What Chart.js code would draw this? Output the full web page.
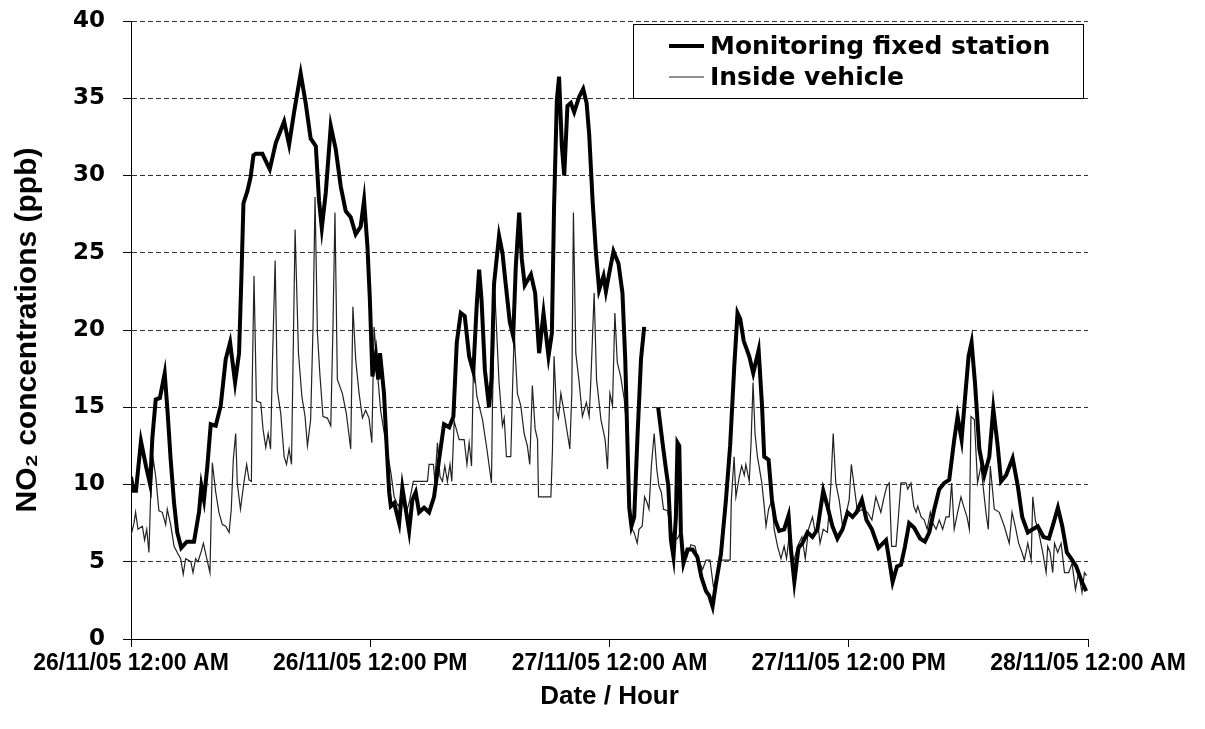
<!DOCTYPE html>
<html>
<head>
<meta charset="utf-8">
<script src="https://cdn.jsdelivr.net/npm/chart.js@4/dist/chart.umd.min.js"></script>
<style>
  body { margin: 0; background: #fff; }
  #wrap { width: 1205px; height: 729px; position: relative; }
</style>
</head>
<body>
<div id="wrap"><canvas id="no2Chart"></canvas></div>
<script>
// hours since 26/11/05 00:00 and NO2 (ppb)
const tickLabels = ["26/11/05 12:00 AM", "26/11/05 12:00 PM", "27/11/05 12:00 AM", "27/11/05 12:00 PM", "28/11/05 12:00 AM"];

const stationHours = [0, 0.12, 0.25, 0.5, 0.75, 0.96, 1.07, 1.24, 1.45, 1.69, 1.83, 1.99, 2.16, 2.32, 2.52, 2.8, 3.16, 3.41, 3.53, 3.66, 3.83,
  4.0, 4.25, 4.5, 4.75, 4.97, 5.22, 5.42, 5.54, 5.64, 5.84, 6.0, 6.14, 6.26, 6.59, 6.96, 7.26, 7.68, 7.93, 8.18, 8.51, 8.76,
  9.01, 9.27, 9.43, 9.57, 9.77, 10.02, 10.27, 10.52, 10.77, 11.02, 11.27, 11.52, 11.69, 11.86, 11.98, 12.11, 12.28, 12.4, 12.49,
  12.69, 12.83, 12.95, 13.03, 13.2, 13.45, 13.61, 13.78, 13.95, 14.11, 14.28, 14.45, 14.7, 14.95, 15.2, 15.45, 15.7, 15.96,
  16.17, 16.34, 16.54, 16.74, 16.96, 17.17, 17.34, 17.46, 17.58, 17.75, 17.96, 18.08, 18.21, 18.46, 18.63, 18.8, 19.0, 19.17,
  19.3, 19.47, 19.6, 19.75, 20.06, 20.27, 20.47, 20.69, 20.94, 21.11, 21.22, 21.36, 21.47, 21.61, 21.73, 21.89, 22.06, 22.23,
  22.48, 22.68, 22.85, 22.98, 23.15, 23.32, 23.48, 23.7, 23.82, 23.99, 24.2, 24.45, 24.65, 24.79, 24.9, 24.99, 25.1, 25.24,
  25.41, 25.58, 25.74, 25.9, 26.44, 26.66, 26.83, 26.95, 27.08, 27.21, 27.33, 27.41, 27.5, 27.58, 27.71, 27.91, 28.16, 28.41,
  28.61, 28.84, 29.0, 29.17, 29.34, 29.59, 29.84, 30.05, 30.26, 30.42, 30.56, 30.73, 31.01, 31.21, 31.48, 31.65, 31.76, 31.98,
  32.15, 32.31, 32.51, 32.76, 32.98, 33.1, 33.27, 33.48, 33.68, 33.93, 34.18, 34.43, 34.72, 34.93, 35.18, 35.43, 35.69, 35.94,
  36.19, 36.39, 36.66, 36.89, 37.16, 37.49, 37.87, 38.03, 38.2, 38.42, 38.62, 38.82, 39.03, 39.28, 39.58, 39.82, 40.04, 40.29,
  40.54, 40.79, 41.04, 41.29, 41.46, 41.66, 41.8, 42.01, 42.16, 42.33, 42.55, 42.8, 43.05, 43.25, 43.47, 43.64, 43.89, 44.22,
  44.48, 44.7, 44.98, 45.23, 45.48, 45.77, 46.04, 46.27, 46.49, 46.71, 46.94, 47.16, 47.41, 47.66, 47.91];
const stationValues = [10.5, 9.6, 9.6, 12.8, 11.2, 10.0, 13.0, 15.5, 15.6, 17.2, 14.8, 11.6, 8.8, 6.9, 5.9, 6.3, 6.3, 8.2, 9.9, 9.0, 11.2,
  13.9, 13.8, 15.1, 18.1, 19.2, 16.6, 18.5, 23.5, 28.2, 29.0, 29.9, 31.3, 31.4, 31.4, 30.4, 32.1, 33.5, 32.0, 34.1, 36.6, 34.7,
  32.4, 31.9, 28.4, 26.6, 28.9, 33.2, 31.7, 29.3, 27.7, 27.3, 26.2, 26.7, 28.4, 25.4, 22.0, 17.0, 18.4, 16.8, 18.5,
  15.9, 12.3, 9.5, 8.6, 8.8, 7.5, 9.8, 8.4, 7.0, 9.0, 9.5, 8.2, 8.5, 8.2, 9.2, 11.6, 13.9, 13.7,
  14.4, 19.2, 21.1, 20.9, 18.3, 17.3, 21.6, 23.9, 22.0, 17.4, 15.0, 16.8, 23.0, 26.1, 25.0, 22.9, 20.5, 19.6,
  24.1, 27.6, 24.6, 22.9, 23.6, 22.4, 18.5, 21.1, 18.3, 19.8, 28.0, 34.9, 36.4, 31.9, 30.0, 34.5, 34.7, 34.1,
  35.1, 35.6, 34.7, 32.7, 28.4, 25.0, 22.6, 23.5, 22.5, 23.7, 25.1, 24.3, 22.4, 18.1, 12.7, 8.5, 7.3, 7.9,
  13.3, 18.1, 20.2, null, 15.0, 12.7, 11.0, 9.9, 6.4, 5.3, 7.9, 12.7, 12.5, 6.9, 4.9, 5.8, 5.8, 5.3,
  4.0, 3.1, 2.8, 2.1, 3.6, 5.5, 9.0, 12.5, 17.7, 21.1, 20.7, 19.3, 18.3, 17.2, 18.7, 15.1, 11.8, 11.6,
  9.0, 7.7, 7.0, 7.1, 8.0, 5.8, 3.7, 5.9, 6.2, 6.9, 6.6, 7.1, 9.6, 8.6, 7.3, 6.5, 7.1, 8.2,
  7.9, 8.2, 9.0, 7.7, 7.1, 5.9, 6.4, 5.1, 3.7, 4.7, 4.8, 6.0, 7.5, 7.2, 6.5, 6.3, 6.9, 8.4,
  9.7, 10.1, 10.3, 12.9, 14.4, 12.9, 15.1, 18.3, 19.2, 16.6, 12.3, 10.6, 11.8, 14.9, 12.5, 10.2, 10.6, 11.7,
  9.9, 7.9, 6.9, 7.1, 7.3, 6.6, 6.5, 7.5, 8.5, 7.3, 5.6, 5.2, 4.7, 3.8, 3.1];

const vehicleHours = [0, 0.15, 0.23, 0.35, 0.57, 0.68, 0.79, 0.9, 0.99, 1.12, 1.24, 1.4, 1.57, 1.74, 1.82, 1.99, 2.16, 2.32, 2.49, 2.62,
  2.74, 3.0, 3.11, 3.24, 3.36, 3.53, 3.63, 3.8, 3.96, 4.08, 4.25, 4.41, 4.58, 4.75, 4.92, 5.03, 5.13, 5.25, 5.33, 5.49, 5.66,
  5.8, 5.92, 6.04, 6.08, 6.17, 6.29, 6.51, 6.62, 6.76, 6.88, 7.0, 7.09, 7.23, 7.34, 7.51, 7.68, 7.8, 7.93, 8.05, 8.13, 8.23,
  8.4, 8.57, 8.73, 8.85, 9.01, 9.13, 9.23, 9.35, 9.47, 9.63, 9.85, 10.02, 10.13, 10.23, 10.35, 10.6, 10.8, 11.02, 11.13,
  11.27, 11.44, 11.61, 11.77, 11.94, 12.08, 12.19, 12.39, 12.52, 12.78, 13.03, 13.2, 13.4, 13.61, 13.78, 13.95, 14.16, 14.87,
  14.95, 15.17, 15.24, 15.37, 15.5, 15.62, 15.74, 15.87, 16.0, 16.09, 16.21, 16.46, 16.71, 16.85, 16.96, 17.08, 17.18, 17.35,
  17.63, 17.85, 18.08, 18.13, 18.25, 18.46, 18.63, 18.72, 18.83, 19.05, 19.13, 19.22, 19.38, 19.55, 19.72, 19.88, 20.0, 20.13,
  20.27, 20.39, 20.44, 21.06, 21.14, 21.22, 21.34, 21.44, 21.56, 21.73, 21.89, 22.01, 22.11, 22.19, 22.31, 22.48, 22.64, 22.84,
  22.98, 23.06, 23.23, 23.35, 23.57, 23.78, 23.9, 24.02, 24.15, 24.27, 24.39, 24.56, 24.74, 24.9, 25.06, 25.23, 25.39, 25.48,
  25.64, 25.76, 25.89, 25.98, 26.1, 26.24, 26.37, 26.48, 26.6, 26.71, 26.91, 27.08, 27.25, 27.41, 27.55, 27.71, 27.88, 28.08,
  28.29, 28.41, 28.67, 28.84, 29.04, 29.21, 29.38, 29.59, 30.05, 30.11, 30.25, 30.34, 30.51, 30.63, 30.76, 30.84, 31.01, 31.1,
  31.2, 31.3, 31.42, 31.64, 31.76, 31.85, 31.98, 32.15, 32.26, 32.43, 32.6, 32.76, 32.88, 33.05, 33.22, 33.43, 33.65, 33.82,
  33.98, 34.18, 34.32, 34.48, 34.56, 34.72, 34.93, 35.1, 35.22, 35.35, 35.52, 35.69, 35.89, 36.02, 36.13, 36.27, 36.44, 36.69,
  36.94, 37.16, 37.36, 37.61, 37.74, 37.91, 38.03, 38.15, 38.37, 38.49, 38.62, 38.87, 38.96, 39.12, 39.26, 39.38, 39.46, 39.63,
  39.79, 39.93, 40.09, 40.21, 40.38, 40.54, 40.71, 40.88, 41.04, 41.16, 41.29, 41.46, 41.63, 41.76, 41.93, 42.05, 42.13, 42.3,
  42.46, 42.63, 42.88, 43.0, 43.1, 43.3, 43.55, 43.8, 44.05, 44.19, 44.35, 44.52, 44.69, 44.81, 44.98, 45.15, 45.23, 45.36,
  45.53, 45.73, 45.9, 45.98, 46.1, 46.23, 46.32, 46.48, 46.65, 46.82, 47.03, 47.2, 47.37, 47.53, 47.7, 47.82, 47.93];
const vehicleValues = [6.7, 7.5, 8.2, 7.1, 7.3, 6.4, 7.1, 5.6, 9.5, 11.6, 10.5, 8.3, 8.2, 7.4, 8.4, 7.4, 6.0, 5.6, 5.2, 4.2,
  5.2, 5.0, 4.3, 5.2, 5.0, 5.7, 6.2, 5.2, 4.3, 11.4, 9.5, 8.2, 7.4, 7.3, 6.9, 8.4, 11.6, 13.3, 10.1, 8.4, 10.1,
  11.3, 10.3, 10.2, 16.6, 23.5, 15.4, 15.3, 13.6, 12.4, 13.3, 12.3, 17.7, 24.5, 16.1, 14.6, 11.8, 11.3, 12.3, 11.3, 18.1, 26.5,
  18.5, 15.7, 14.4, 12.5, 14.2, 20.2, 28.6, 19.8, 17.2, 14.4, 14.3, 13.8, 20.2, 27.6, 16.8, 15.9, 14.6, 12.3, 21.5,
  18.1, 15.9, 14.3, 14.8, 14.3, 12.7, 20.2, 16.8, 14.8, 12.7, 10.8, 9.2, 8.6, 9.2, 8.1, 8.8, 10.2, 10.2,
  11.3, 11.3, 10.2, 12.7, 10.5, 10.2, 11.2, 10.2, 11.3, 10.2, 14.1, 12.9, 12.9, 11.3, 12.7, 11.2, 17.9, 15.7,
  14.2, 12.3, 10.1, 15.1, 22.4, 16.6, 13.8, 14.3, 11.8, 11.8, 15.9, 19.8, 15.9, 15.1, 13.3, 12.5, 11.3, 16.4,
  13.6, 12.9, 9.2, 9.2, 12.3, 18.3, 14.8, 14.3, 15.9, 14.6, 13.3, 12.3, 15.9, 27.6, 18.5, 16.6, 14.4, 15.3,
  14.4, 16.6, 22.4, 16.8, 14.2, 12.9, 11.0, 15.9, 15.1, 21.1, 17.9, 17.0, 15.5, 13.1, 7.3, 6.9, 6.2, 7.1,
  7.3, 9.2, 8.8, 8.4, 11.2, 13.3, 11.0, 9.9, 9.5, 8.4, 8.3, 7.1, 6.4, 6.5, 6.9, 5.3, 5.3, 6.1,
  6.0, 5.3, 4.5, 5.1, 5.1, 3.4, 3.8, 5.1, 5.1, 9.0, 11.8, 9.2, 10.5, 11.2, 10.6, 11.3, 10.2, 12.7,
  16.6, 13.3, 11.8, 10.1, 8.6, 7.3, 8.4, 9.0, 7.1, 6.0, 5.2, 6.0, 5.2, 7.1, 4.9, 6.0, 6.6, 5.2,
  7.1, 7.9, 6.9, 7.1, 6.2, 7.1, 6.9, 9.9, 13.3, 10.1, 9.0, 7.3, 8.2, 9.0, 11.3, 9.9, 8.2, 8.4,
  8.2, 7.7, 9.2, 8.2, 9.0, 9.9, 10.1, 6.0, 6.0, 7.9, 10.1, 10.1, 9.7, 10.1, 8.6, 8.2, 8.6, 7.9,
  7.7, 7.1, 8.2, 7.5, 7.1, 7.7, 7.1, 7.9, 7.9, 10.1, 7.1, 8.2, 9.2, 8.6, 7.9, 7.1, 14.4, 14.2,
  10.1, 11.2, 8.2, 7.1, 11.2, 8.4, 8.2, 7.3, 6.2, 8.2, 7.3, 6.2, 5.6, 5.1, 6.2, 5.1, 9.2, 7.7,
  6.9, 5.6, 4.3, 6.0, 5.6, 4.3, 6.2, 5.6, 6.2, 4.3, 4.3, 4.9, 3.2, 4.3, 3.0, 4.3, 4.1];

function toPoints(hours, values) {
  return hours.map((h, i) => ({ x: h, y: values[i] }));
}

// boxed legend in the top right of the plot
const legendBox = {
  id: 'legendBox',
  afterDraw(chart) {
    const { ctx, chartArea } = chart;
    const w = 450, h = 74;
    const x = chartArea.right - w - 5;
    const y = chartArea.top + 3;
    ctx.save();
    ctx.fillStyle = '#fff';
    ctx.fillRect(x, y, w, h);
    ctx.strokeStyle = '#000';
    ctx.lineWidth = 1;
    ctx.strokeRect(x + 0.5, y + 0.5, w, h);
    chart.data.datasets.forEach((ds, i) => {
      const cy = y + 22 + i * 31;
      ctx.beginPath();
      ctx.lineWidth = ds.borderWidth;
      ctx.strokeStyle = ds.borderColor;
      ctx.moveTo(x + 36, cy);
      ctx.lineTo(x + 71, cy);
      ctx.stroke();
      ctx.fillStyle = '#000';
      ctx.font = 'bold 25px "DejaVu Sans"';
      ctx.textBaseline = 'middle';
      ctx.fillText(ds.label, x + 77, cy + 1);
    });
    ctx.restore();
  }
};

Chart.defaults.font.family = '"Liberation Sans", Arial, sans-serif';
Chart.defaults.color = '#000';

new Chart(document.getElementById('no2Chart'), {
  type: 'line',
  data: {
    datasets: [{
      label: 'Monitoring fixed station',
      data: toPoints(stationHours, stationValues),
      borderColor: '#000',
      borderWidth: 4,
      pointRadius: 0,
      tension: 0,
      spanGaps: false
    }, {
      label: 'Inside vehicle',
      data: toPoints(vehicleHours, vehicleValues),
      borderColor: '#222',
      borderWidth: 1.2,
      pointRadius: 0,
      tension: 0
    }]
  },
  options: {
    responsive: true,
    maintainAspectRatio: false,
    animation: false,
    layout: { padding: { top: 21, right: 117, bottom: 0, left: 0 } },
    plugins: { legend: { display: false }, tooltip: { enabled: false } },
    scales: {
      x: {
        type: 'linear',
        min: 0,
        max: 48,
        afterFit: s => { s.height = 90; },
        afterBuildTicks: s => { s.ticks = tickLabels.map((_, i) => ({ value: i * 12 })); },
        ticks: {
          autoSkip: false,
          maxRotation: 0,
          padding: 3,
          font: { size: 23, weight: 'bold' },
          callback: (v, i) => tickLabels[i]
        },
        grid: { drawOnChartArea: false, drawTicks: true, tickLength: 8, tickColor: '#000' },
        border: { color: '#000', width: 1 },
        title: {
          display: true,
          text: 'Date / Hour',
          font: { size: 26, weight: 'bold' },
          padding: { top: 0, bottom: 17 }
        }
      },
      y: {
        min: 0,
        max: 40,
        afterFit: s => { s.width = 131; s.paddingTop = 0; s.paddingBottom = 0; },
        ticks: {
          stepSize: 5,
          padding: 18,
          font: { family: '"DejaVu Sans"', size: 23, weight: 'bold' }
        },
        grid: { color: '#333', lineWidth: 1, tickLength: 8, tickColor: '#000', tickBorderDash: [] },
        border: { color: '#000', width: 1, dash: [5, 3] },
        title: {
          display: true,
          text: 'NO₂ concentrations (ppb)',
          font: { size: 30, weight: 'bold' },
          padding: { top: 10, bottom: 0 }
        }
      }
    }
  },
  plugins: [legendBox]
});
</script>
</body>
</html>
